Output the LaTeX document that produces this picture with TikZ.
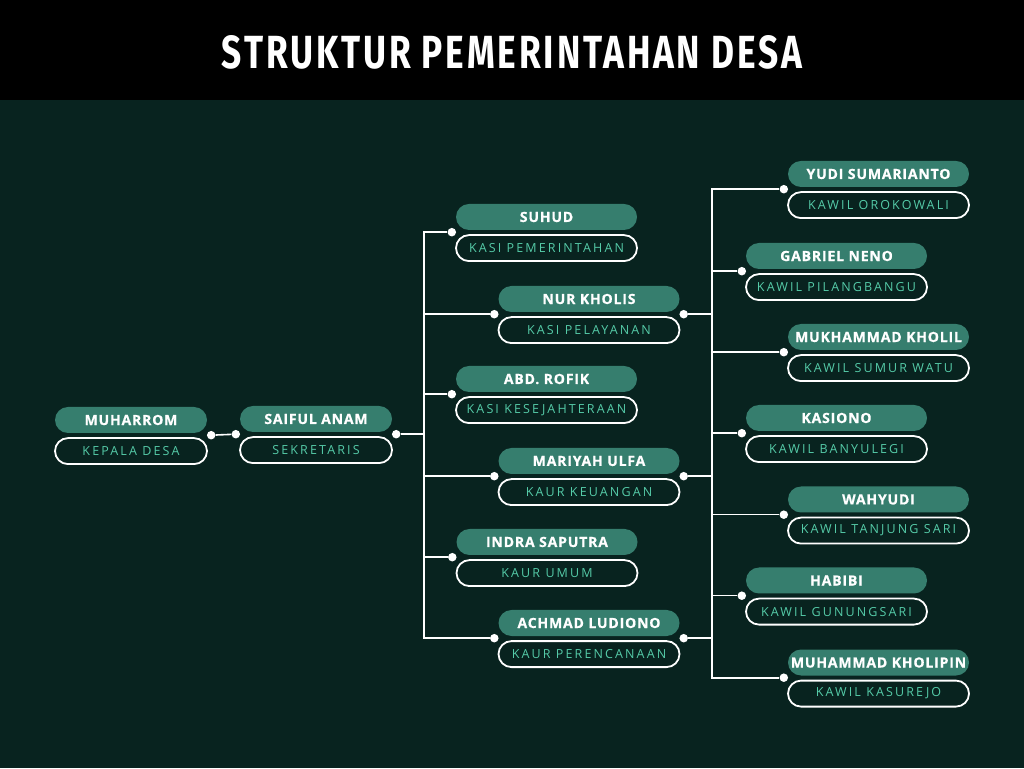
\documentclass[tikz,border=0pt]{standalone}
\usepackage{fontspec}
\usepackage{graphicx}
\usetikzlibrary{positioning}
\newfontfamily\namefont{Open Sans}[LetterSpace=6, BoldFeatures={FakeBold=0.7}]
\newfontfamily\rolefont{Open Sans}[LetterSpace=17]
\newfontfamily\titlefont{Fira Sans}[LetterSpace=8]
\definecolor{bgdark}{HTML}{08231F}
\definecolor{pillteal}{HTML}{367E6E}
\definecolor{roleteal}{HTML}{55CBA8}
\tikzset{namepill/.style = {font=\namefont\bfseries\fontsize{14}{16}\selectfont, text=white, fill=pillteal, rounded corners=13pt, minimum height=26pt, inner sep=0pt}}
\tikzset{rolepill/.style = {font=\rolefont\fontsize{12.5}{14}\selectfont, text=roleteal, draw=white, line width=1.8pt, rounded corners=13pt, minimum height=26pt, inner sep=0pt, node distance=4pt}}
\tikzset{dot/.style = {circle, fill=white, inner sep=0pt, minimum size=8.5pt}}
\tikzset{wire/.style = {draw=white, line width=1.6pt}}

\begin{document}
\begin{tikzpicture}[x=1pt,y=1pt]
\useasboundingbox (0,0) rectangle (1024,768);
\fill[bgdark] (0,0) rectangle (1024,768);
\fill[black] (0,668) rectangle (1024,768);
\node[text=white] (title) at (512,716) {\resizebox{580pt}{33pt}{\titlefont\bfseries STRUKTUR PEMERINTAHAN DESA}};
% kepala desa dan sekretaris
\node[namepill,minimum width=152pt](kades) at (131,348) {MUHARROM};
\node[rolepill,minimum width=152pt,below = of kades](kades-r) {KEPALA DESA};
\node[namepill,minimum width=152pt](sekdes) at (316,349) {SAIFUL ANAM};
\node[rolepill,minimum width=152pt,below = of sekdes](sekdes-r) {SEKRETARIS};
% kasi dan kaur
\node[namepill,minimum width=181pt](suhud) at (546.5,551) {SUHUD};
\node[rolepill,minimum width=181pt,below = of suhud](suhud-r) {KASI PEMERINTAHAN};
\node[namepill,minimum width=181pt](nur) at (589,469) {NUR KHOLIS};
\node[rolepill,minimum width=181pt,below = of nur](nur-r) {KASI PELAYANAN};
\node[namepill,minimum width=181pt](rofik) at (546.5,389) {ABD. ROFIK};
\node[rolepill,minimum width=181pt,below = of rofik](rofik-r) {KASI KESEJAHTERAAN};
\node[namepill,minimum width=181pt](mariyah) at (589,307) {MARIYAH ULFA};
\node[rolepill,minimum width=181pt,below = of mariyah](mariyah-r) {KAUR KEUANGAN};
\node[namepill,minimum width=181pt](indra) at (547,226) {INDRA SAPUTRA};
\node[rolepill,minimum width=181pt,below = of indra](indra-r) {KAUR UMUM};
\node[namepill,minimum width=181pt](achmad) at (589,145) {ACHMAD LUDIONO};
\node[rolepill,minimum width=181pt,below = of achmad](achmad-r) {KAUR PERENCANAAN};
% kawil
\node[namepill,minimum width=181pt](yudi) at (878.5,594) {YUDI SUMARIANTO};
\node[rolepill,minimum width=181pt,below = of yudi](yudi-r) {KAWIL OROKOWALI};
\node[namepill,minimum width=181pt](gabriel) at (836.5,512) {GABRIEL NENO};
\node[rolepill,minimum width=181pt,below = of gabriel](gabriel-r) {KAWIL PILANGBANGU};
\node[namepill,minimum width=181pt](mukhammad) at (878.5,431) {MUKHAMMAD KHOLIL};
\node[rolepill,minimum width=181pt,below = of mukhammad](mukhammad-r) {KAWIL SUMUR WATU};
\node[namepill,minimum width=181pt](kasiono) at (836.5,350) {KASIONO};
\node[rolepill,minimum width=181pt,below = of kasiono](kasiono-r) {KAWIL BANYULEGI};
\node[namepill,minimum width=181pt](wahyudi) at (878.5,268.5) {WAHYUDI};
\node[rolepill,minimum width=181pt,below = of wahyudi](wahyudi-r) {KAWIL TANJUNG SARI};
\node[namepill,minimum width=181pt](habibi) at (836.5,187.5) {HABIBI};
\node[rolepill,minimum width=181pt,below = of habibi](habibi-r) {KAWIL GUNUNGSARI};
\node[namepill,minimum width=181pt](kholipin) at (878.5,105.5) {MUHAMMAD KHOLIPIN};
\node[rolepill,minimum width=181pt,below = of kholipin](kholipin-r) {KAWIL KASUREJO};
% titik sambungan
\node[dot,xshift=4pt,yshift=-2pt](kades-out) at (kades.south east) {};
\node[dot,xshift=-4pt,yshift=-2pt](sekdes-in) at (sekdes.south west) {};
\node[dot,xshift=4pt,yshift=-2pt](sekdes-out) at (sekdes.south east) {};
\node[dot,xshift=-4pt,yshift=-2pt](suhud-in) at (suhud.south west) {};
\node[dot,xshift=-4pt,yshift=-2pt](nur-in) at (nur.south west) {};
\node[dot,xshift=4pt,yshift=-2pt](nur-out) at (nur.south east) {};
\node[dot,xshift=-4pt,yshift=-2pt](rofik-in) at (rofik.south west) {};
\node[dot,xshift=-4pt,yshift=-2pt](mariyah-in) at (mariyah.south west) {};
\node[dot,xshift=4pt,yshift=-2pt](mariyah-out) at (mariyah.south east) {};
\node[dot,xshift=-4pt,yshift=-2pt](indra-in) at (indra.south west) {};
\node[dot,xshift=-4pt,yshift=-2pt](achmad-in) at (achmad.south west) {};
\node[dot,xshift=4pt,yshift=-2pt](achmad-out) at (achmad.south east) {};
\node[dot,xshift=-4pt,yshift=-2pt](yudi-in) at (yudi.south west) {};
\node[dot,xshift=-4pt,yshift=-2pt](gabriel-in) at (gabriel.south west) {};
\node[dot,xshift=-4pt,yshift=-2pt](mukhammad-in) at (mukhammad.south west) {};
\node[dot,xshift=-4pt,yshift=-2pt](kasiono-in) at (kasiono.south west) {};
\node[dot,xshift=-4pt,yshift=-2pt](wahyudi-in) at (wahyudi.south west) {};
\node[dot,xshift=-4pt,yshift=-2pt](habibi-in) at (habibi.south west) {};
\node[dot,xshift=-4pt,yshift=-2pt](kholipin-in) at (kholipin.south west) {};
% garis
\draw[wire] (kades-out) -- (sekdes-in);
\draw[wire] (sekdes-out) --++(28,0) |- (suhud-in);
\draw[wire] (sekdes-out) --++(28,0) |- (nur-in);
\draw[wire] (sekdes-out) --++(28,0) |- (rofik-in);
\draw[wire] (sekdes-out) --++(28,0) |- (mariyah-in);
\draw[wire] (sekdes-out) --++(28,0) |- (indra-in);
\draw[wire] (sekdes-out) --++(28,0) |- (achmad-in);
\draw[wire] (nur-out) --++(28,0) |- (yudi-in);
\draw[wire] (nur-out) --++(28,0) |- (gabriel-in);
\draw[wire] (nur-out) --++(28,0) |- (mukhammad-in);
\draw[wire] (mariyah-out) --++(28,0) |- (mukhammad-in);
\draw[wire] (mariyah-out) --++(28,0) |- (kasiono-in);
\draw[wire] (mariyah-out) --++(28,0) |- (wahyudi-in);
\draw[wire] (mariyah-out) --++(28,0) |- (habibi-in);
\draw[wire] (achmad-out) --++(28,0) |- (habibi-in);
\draw[wire] (achmad-out) --++(28,0) |- (kholipin-in);
\end{tikzpicture}
\end{document}
